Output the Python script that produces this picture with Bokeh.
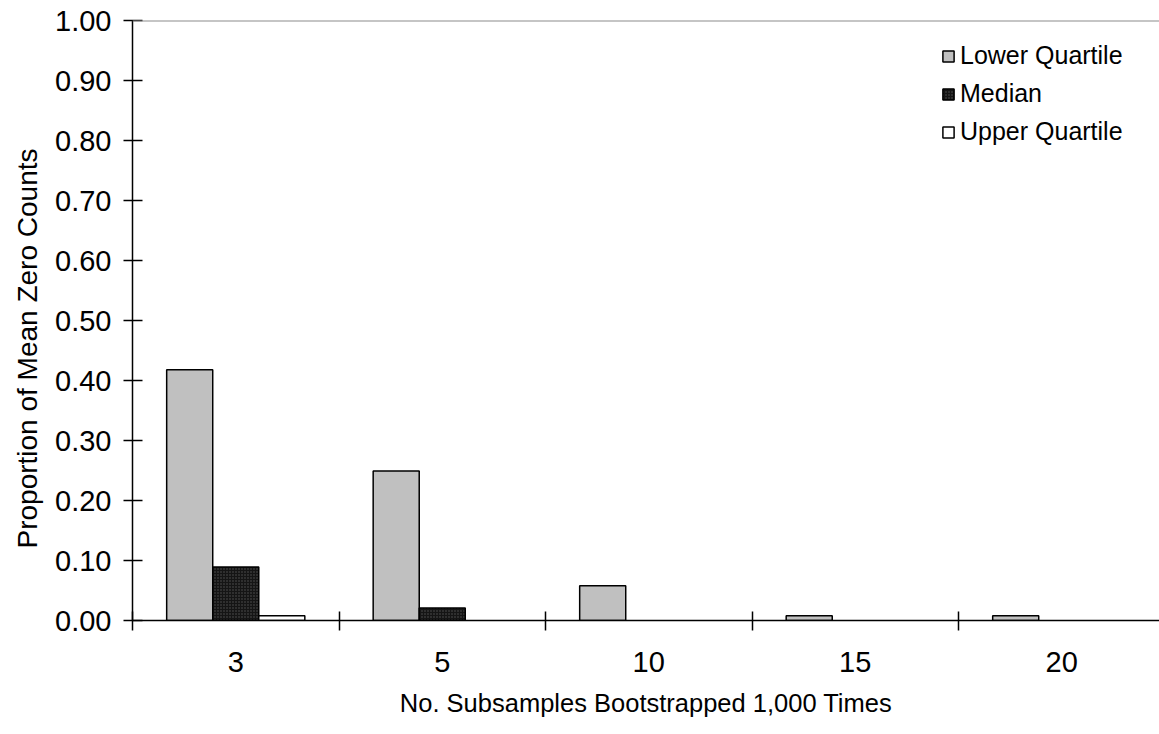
from bokeh.plotting import figure
from bokeh.models import (Range1d, FixedTicker, Span, Legend, LegendItem, ColumnDataSource,
                          CDSView, BooleanFilter, Title)
from bokeh.embed import file_html
from bokeh.resources import INLINE

categories = ["3", "5", "10", "15", "20"]
lower_quartile = [0.418, 0.249, 0.058, 0.008, 0.008]
median = [0.089, 0.021, 0.0, 0.0, 0.0]
upper_quartile = [0.008, 0.0, 0.0, 0.0, 0.0]
y_ticks = [0.0, 0.1, 0.2, 0.3, 0.4, 0.5, 0.6, 0.7, 0.8, 0.9, 1.0]
x_title = "No. Subsamples Bootstrapped 1,000 Times"
y_title = "Proportion of Mean Zero Counts"

FONT = "Liberation Sans"
BW = 0.223
UNIT = 206.5

centers = [i + 0.5 for i in range(len(categories))]

W, H = 1159, 730
ML, MT, MB = 132, 20, 110
p = figure(width=W, height=H, output_backend="svg", toolbar_location=None,
           x_range=Range1d(0, (W - ML) / UNIT), y_range=Range1d(0, 1),
           min_border_left=ML, min_border_right=0, min_border_top=MT, min_border_bottom=MB)
p.outline_line_color = None
p.grid.visible = False
p.background_fill_color = "white"
p.border_fill_color = "white"

p.add_layout(Span(location=1.0, dimension="width", line_color="#8c8c8c", line_width=2))


def bars(values, offset, **style):
    src = ColumnDataSource(dict(x=[c + offset for c in centers], top=values))
    view = CDSView(filter=BooleanFilter([v > 0 for v in values]))
    return p.vbar(x="x", top="top", width=BW, bottom=0, source=src, view=view,
                  line_color="black", line_width=1.5, **style)


r1 = bars(lower_quartile, -BW, fill_color="#c0c0c0")
r2 = bars(median, 0.0, fill_color="#151515", hatch_pattern="dot", hatch_color="#555555",
          hatch_scale=3, hatch_weight=1)
r3 = bars(upper_quartile, BW, fill_color="white")

legend = Legend(items=[LegendItem(label="Lower Quartile", renderers=[r1]),
                       LegendItem(label="Median", renderers=[r2]),
                       LegendItem(label="Upper Quartile", renderers=[r3])],
                location=(809, 474))
legend.border_line_color = None
legend.background_fill_alpha = 0
legend.label_text_font = FONT
legend.label_text_font_size = "25px"
legend.label_text_color = "black"
legend.glyph_width = 14
legend.glyph_height = 14
legend.label_standoff = 5
legend.spacing = 9
legend.padding = 0
legend.margin = 0
p.add_layout(legend)

# x axis
xa = p.xaxis[0]
xa.ticker = FixedTicker(ticks=centers, minor_ticks=list(range(len(categories) + 1)))
xa.major_label_overrides = {c: lab for c, lab in zip(centers, categories)}
xa.major_tick_line_color = None
xa.minor_tick_in = 9
xa.minor_tick_out = 10
xa.minor_tick_line_color = "black"
xa.minor_tick_line_width = 1.5
xa.axis_line_color = "black"
xa.axis_line_width = 1.5
xa.major_label_standoff = 21
xa.major_label_text_font = FONT
xa.major_label_text_font_size = "29px"
xa.major_label_text_color = "black"
xa.axis_label = x_title
xa.axis_label_text_font = FONT
xa.axis_label_text_font_size = "25.5px"
xa.axis_label_text_font_style = "normal"
xa.axis_label_text_color = "black"
xa.axis_label_standoff = 14

ya = p.yaxis[0]
ya.ticker = FixedTicker(ticks=y_ticks, minor_ticks=[])
ya.major_label_overrides = {t: "%.2f" % t for t in y_ticks}
ya.major_tick_in = 10
ya.major_tick_out = 9
ya.major_tick_line_color = "black"
ya.major_tick_line_width = 1.5
ya.axis_line_color = "black"
ya.axis_line_width = 1.5
ya.major_label_standoff = 12
ya.major_label_text_font = FONT
ya.major_label_text_font_size = "29px"
ya.major_label_text_color = "black"

p.add_layout(Title(text=y_title, align="left", offset=72, standoff=19,
                   text_font=FONT, text_font_size="28px", text_font_style="normal",
                   text_color="black"), "left")

open("out.html", "w").write(file_html(p, INLINE))
